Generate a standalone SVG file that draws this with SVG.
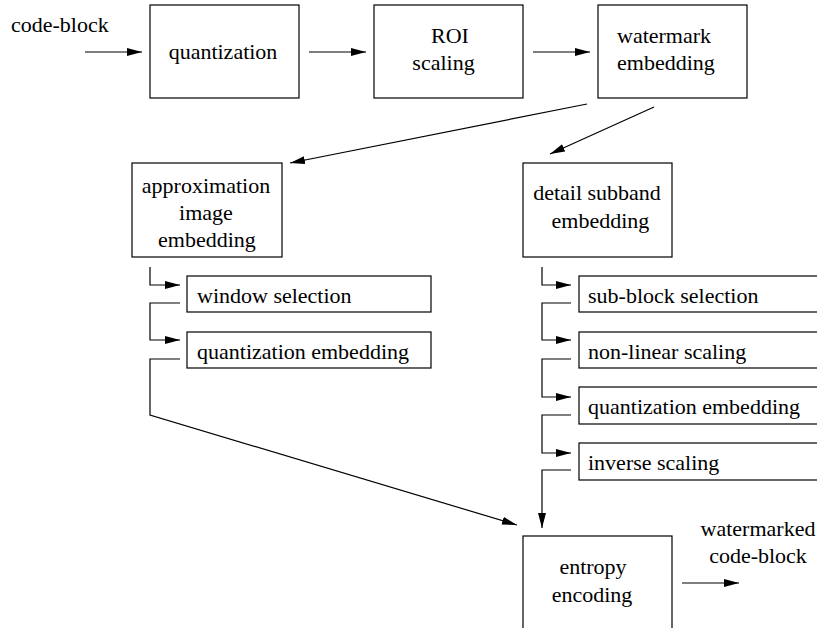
<svg xmlns="http://www.w3.org/2000/svg" width="817" height="628" viewBox="0 0 817 628">
<style>
.box{fill:#fff;stroke:#000;stroke-width:1.2}
.ln{fill:none;stroke:#000;stroke-width:1.2}
.m{text-anchor:middle}
</style>
<defs>
<marker id="ah" viewBox="0 0 15 8" refX="15" refY="4" markerWidth="15" markerHeight="8" markerUnits="userSpaceOnUse" orient="auto">
<path d="M0,0 L15,4 L0,8 Z" fill="#000"/>
</marker>
</defs>
<rect width="817" height="628" fill="#fff"/>
<g id="connectors">
<line class="ln" x1="85" y1="52" x2="142" y2="52" marker-end="url(#ah)"/>
<line class="ln" x1="309" y1="52" x2="366" y2="52" marker-end="url(#ah)"/>
<line class="ln" x1="533" y1="52" x2="590" y2="52" marker-end="url(#ah)"/>
<line class="ln" x1="587" y1="104" x2="290" y2="163" marker-end="url(#ah)"/>
<line class="ln" x1="654" y1="107" x2="550" y2="154" marker-end="url(#ah)"/>
<path class="ln" d="M150,267 V285 H180" marker-end="url(#ah)"/>
<path class="ln" d="M180,303 H150 V340 H180" marker-end="url(#ah)"/>
<path class="ln" d="M180,359 H150 V415 L517,525" marker-end="url(#ah)"/>
<path class="ln" d="M542,267 V285 H571" marker-end="url(#ah)"/>
<path class="ln" d="M571,303 H542 V340 H571" marker-end="url(#ah)"/>
<path class="ln" d="M571,359 H542 V397 H571" marker-end="url(#ah)"/>
<path class="ln" d="M571,415 H542 V453 H571" marker-end="url(#ah)"/>
<path class="ln" d="M571,470 H542 V528" marker-end="url(#ah)"/>
<line class="ln" x1="682" y1="583" x2="739" y2="583" marker-end="url(#ah)"/>
</g>
<g font-family="Liberation Serif, 'Times New Roman', 'DejaVu Serif', serif" font-size="22" fill="#000">
<g id="input-label"><text x="11" y="32">code-block</text></g>
<g id="quantization">
<rect class="box" x="150" y="5" width="149" height="93"/>
<text class="m" x="223" y="59">quantization</text>
</g>
<g id="roi-scaling">
<rect class="box" x="374" y="5" width="149" height="93"/>
<text class="m" x="450" y="43">ROI</text>
<text class="m" x="443.5" y="70">scaling</text>
</g>
<g id="watermark-embedding">
<rect class="box" x="598" y="5" width="149" height="93"/>
<text x="617" y="43">watermark</text>
<text x="617" y="70">embedding</text>
</g>
<g id="approximation-image-embedding">
<rect class="box" x="132" y="163" width="150" height="94"/>
<text class="m" x="206" y="193">approximation</text>
<text class="m" x="206" y="220">image</text>
<text class="m" x="207" y="247">embedding</text>
</g>
<g id="detail-subband-embedding">
<rect class="box" x="523" y="163" width="149" height="94"/>
<text class="m" x="597" y="200">detail subband</text>
<text class="m" x="600.5" y="228">embedding</text>
</g>
<g id="window-selection">
<rect class="box" x="187" y="276" width="244" height="36"/>
<text x="197" y="303">window selection</text>
</g>
<g id="approx-quantization-embedding">
<rect class="box" x="187" y="332" width="244" height="36"/>
<text x="197" y="359">quantization embedding</text>
</g>
<g id="sub-block-selection">
<rect class="box" x="579" y="276" width="300" height="36"/>
<text x="588" y="303">sub-block selection</text>
</g>
<g id="non-linear-scaling">
<rect class="box" x="579" y="332" width="300" height="36"/>
<text x="588" y="359">non-linear scaling</text>
</g>
<g id="detail-quantization-embedding">
<rect class="box" x="579" y="387" width="300" height="37"/>
<text x="588" y="414">quantization embedding</text>
</g>
<g id="inverse-scaling">
<rect class="box" x="579" y="443" width="300" height="37"/>
<text x="588" y="470">inverse scaling</text>
</g>
<g id="entropy-encoding">
<rect class="box" x="523" y="536" width="149" height="120"/>
<text class="m" x="593" y="574">entropy</text>
<text class="m" x="592" y="602">encoding</text>
</g>
<g id="output-label">
<text class="m" x="758" y="536">watermarked</text>
<text class="m" x="758" y="563">code-block</text>
</g>
</g>
</svg>
